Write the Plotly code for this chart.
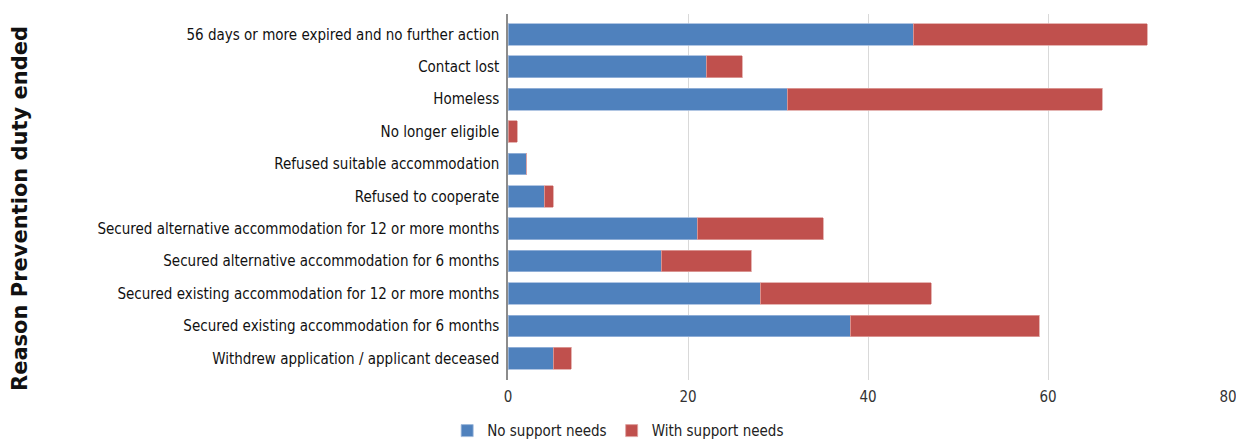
import plotly.graph_objects as go

# Reasons the prevention duty ended, with counts split by support needs
reasons = [
    "56 days or more expired and no further action",
    "Contact lost",
    "Homeless",
    "No longer eligible",
    "Refused suitable accommodation",
    "Refused to cooperate",
    "Secured alternative accommodation for 12 or more months",
    "Secured alternative accommodation for 6 months",
    "Secured existing accommodation for 12 or more months",
    "Secured existing accommodation for 6 months",
    "Withdrew application / applicant deceased",
]
no_support_needs = [45, 22, 31, 0, 2, 4, 21, 17, 28, 38, 5]
with_support_needs = [26, 4, 35, 1, 0, 1, 14, 10, 19, 21, 2]
x_ticks = [0, 20, 40, 60, 80]

label_font = "DejaVu Sans Condensed, Liberation Sans Narrow, sans-serif"

fig = go.Figure()
fig.add_trace(go.Bar(
    y=reasons, x=no_support_needs, orientation="h",
    name="No support needs",
    marker=dict(color="#4F81BD", line=dict(color="#9DB8DC", width=0.8)),
    width=0.67,
))
fig.add_trace(go.Bar(
    y=reasons, x=with_support_needs, orientation="h",
    name="With support needs",
    marker=dict(color="#C0504D", line=dict(color="#DEA2A0", width=0.8)),
    width=0.67,
))

fig.update_layout(
    barmode="stack",
    width=1236, height=440,
    margin=dict(l=508, r=8, t=14, b=60, autoexpand=False),
    paper_bgcolor="white",
    plot_bgcolor="white",
    showlegend=True,
    legend=dict(
        orientation="h",
        x=0.153, xanchor="center",
        y=-0.139, yanchor="middle",
        font=dict(family=label_font, size=15, color="#222222"),
        itemwidth=30,
        traceorder="normal",
    ),
    xaxis=dict(
        range=[0, 80],
        tickvals=x_ticks,
        showgrid=True, gridcolor="#D9D9D9", gridwidth=1,
        zeroline=False,
        showline=False,
        ticks="",
        ticklabelstandoff=6,
        ticklabeloverflow="allow",
        tickfont=dict(family=label_font, size=15, color="#333333"),
    ),
    yaxis=dict(
        categoryorder="array", categoryarray=reasons,
        range=[10.67, -0.63],
        showgrid=False, zeroline=False,
        showline=True, linecolor="#8C8C8C", linewidth=1.5,
        ticks="",
        ticklabelstandoff=4,
        tickfont=dict(family=label_font, size=15, color="#111111"),
    ),
    annotations=[dict(
        text="<b>Reason Prevention duty ended</b>",
        xref="paper", yref="paper",
        x=(20 - 508) / 720, y=1 - (209 - 14) / 366,
        xanchor="center", yanchor="middle",
        textangle=-90, showarrow=False,
        font=dict(family="DejaVu Sans, sans-serif", size=21, color="#111111"),
    )],
)

fig.write_html("out.html")
